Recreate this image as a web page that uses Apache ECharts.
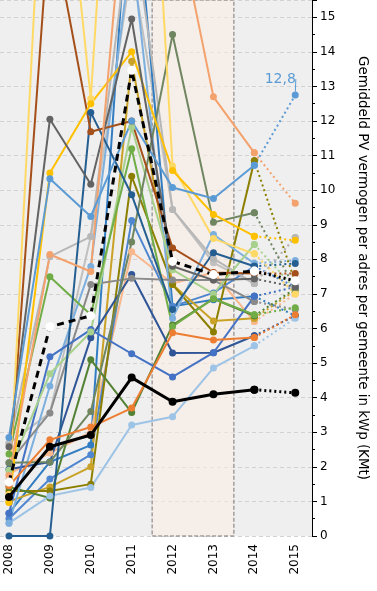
<!DOCTYPE html>
<html>
<head>
<meta charset="utf-8">
<script src="https://cdn.jsdelivr.net/npm/echarts@6/dist/echarts.min.js"></script>
<style>
    html, body { margin: 0; padding: 0; background: #fff; }
    #chart { width: 377px; height: 591px; }
</style>
</head>
<body>
<div id="chart"></div>
<script>
// jaren op de x-as
const years = [2008, 2009, 2010, 2011, 2012, 2013, 2014, 2015];

// gemiddeld vermogen (kWp) per gemeente, één rij per gemeente
const lineBlack      = [1.13, 2.58, 2.92, 4.58, 3.88, 4.10, 4.23, 4.14];
const lineBlackDash  = [1.56, 6.05, 6.37, 13.47, 7.94, 7.56, 7.66, 7.38];
const lineBlue128    = [2.85, 10.33, 9.24, 12.00, 10.08, 9.76, 10.72, 12.75];
const lineSalmon     = [1.75, 8.14, 7.65, 21.0, 18.5, 12.70, 11.08, 9.62];
const lineOrange     = [1.45, 2.78, 3.15, 3.70, 5.88, 5.67, 5.74, 6.40];
const lineDarkGray   = [2.58, 12.05, 10.17, 14.95, 7.80, 7.40, 7.44, 7.20];
const lineGold       = [0.97, 10.50, 12.50, 14.00, 10.57, 9.30, 8.67, 8.55];
const lineLightGold  = [1.20, 24.0, 12.65, 31.0, 10.70, 8.60, 8.16, 7.00];
const lineBrown      = [1.62, 18.0, 11.69, 12.00, 8.33, 7.62, 7.59, 7.59];
const lineNavy       = [0.00, 0.00, 12.25, 9.87, 6.55, 8.19, 7.80, 7.88];
const lineGrayGreen  = [2.12, 2.14, 3.60, 8.50, 14.50, 9.07, 9.35, 7.15];
const lineGreen      = [2.37, 7.50, 6.40, 11.20, 6.06, 6.86, 6.40, 6.60];
const lineLightGreen = [1.90, 4.69, 5.90, 11.82, 7.70, 7.00, 8.43, 7.15];
const lineBlue       = [0.66, 5.18, 5.97, 5.27, 4.60, 5.30, 6.93, 7.20];
const lineLightGray  = [2.68, 8.08, 8.66, 18.0, 9.44, 8.02, 7.30, 8.63];
const lineGray       = [2.12, 3.56, 7.27, 7.45, 7.40, 7.40, 6.78, 6.55];
const lineSkyBlue    = [0.37, 4.34, 7.79, 17.0, 6.30, 8.72, 7.88, 7.97];
const linePaleBlue   = [0.37, 1.16, 1.40, 3.21, 3.45, 4.86, 5.50, 6.30];
const lineSteelBlue  = [1.93, 2.14, 5.73, 7.56, 5.29, 5.30, 5.79, 6.37];
const lineDarkGreen  = [1.42, 1.10, 5.10, 3.57, 6.10, 6.86, 6.37, 7.15];
const lineOlive      = [1.30, 1.30, 1.50, 10.40, 7.27, 5.90, 10.85, 7.33];
const lineDarkGold   = [1.00, 1.42, 2.00, 13.73, 7.27, 6.22, 6.30, 7.10];
const lineMidBlue    = [0.50, 1.65, 2.35, 9.12, 6.64, 7.03, 7.80, 7.20];
const linePeach      = [1.80, 2.40, 3.00, 8.22, 7.30, 7.62, 6.20, 7.00];
const lineOceanBlue  = [0.66, 2.14, 2.63, 20.0, 6.64, 6.83, 6.93, 6.37];
const lineSilver     = [2.68, 3.56, 8.66, 16.5, 9.44, 7.90, 7.30, 8.63];

// periode met andere regeling (gearceerd)
const shadedFrom = 2011.5;
const shadedTo = 2013.5;

const FONT = 'DejaVu Sans';

const lines = [
    { data: lineSilver,     color: '#c0c0c0' },
    { data: lineOceanBlue,  color: '#327dc2' },
    { data: linePeach,      color: '#f8b88e' },
    { data: lineMidBlue,    color: '#4f86d0' },
    { data: lineDarkGold,   color: '#c9a227' },
    { data: lineOlive,      color: '#8c7f00' },
    { data: lineDarkGreen,  color: '#548235' },
    { data: lineSteelBlue,  color: '#2f5597' },
    { data: linePaleBlue,   color: '#9dc3e6' },
    { data: lineSkyBlue,    color: '#7cafdd' },
    { data: lineGray,       color: '#8a8a8a' },
    { data: lineLightGray,  color: '#b7b7b7' },
    { data: lineBlue,       color: '#4472c4' },
    { data: lineLightGreen, color: '#a9d18e' },
    { data: lineGreen,      color: '#70ad47' },
    { data: lineGrayGreen,  color: '#6f8660' },
    { data: lineNavy,       color: '#255e91' },
    { data: lineBrown,      color: '#a5501a' },
    { data: lineLightGold,  color: '#ffd966' },
    { data: lineGold,       color: '#ffc000' },
    { data: lineDarkGray,   color: '#636363' },
    { data: lineOrange,     color: '#ed7d31' },
    { data: lineSalmon,     color: '#f4a26d' },
    { data: lineBlue128,    color: '#5b9bd5', label: '12,8' },
    { data: lineBlackDash,  color: '#000000', width: 3, dash: [7, 5], hollow: true, z: 8 },
    { data: lineBlack,      color: '#000000', width: 3, size: 8, z: 9 }
];

const series = [{
    type: 'line',
    data: [],
    z: 1,
    silent: true,
    markArea: {
        silent: true,
        itemStyle: { color: 'rgba(253,237,225,0.5)', borderColor: '#777', borderWidth: 1, borderType: 'dashed' },
        data: [[{ xAxis: shadedFrom }, { xAxis: shadedTo }]]
    }
}];

lines.forEach(l => {
    const width = l.width || 2;
    const z = l.z || 2;
    series.push({
        type: 'line',
        data: years.slice(0, 7).map((y, k) => [y, l.data[k]]),
        symbol: l.hollow ? 'emptyCircle' : 'circle',
        symbolSize: l.size || 7,
        lineStyle: { color: l.color, width: width, type: l.dash || 'solid' },
        itemStyle: { color: l.hollow ? '#fff' : l.color, borderColor: l.color, borderWidth: l.hollow ? 1.5 : 0 },
        z: z,
        silent: true
    });
    // laatste jaar: gestippeld
    const last = { value: [years[7], l.data[7]] };
    if (l.label) {
        last.label = { show: true, formatter: l.label, color: l.color, fontFamily: FONT, fontSize: 14, position: 'inside' };
    }
    series.push({
        type: 'line',
        data: [[years[6], l.data[6]], last],
        symbol: l.hollow ? 'emptyCircle' : 'circle',
        symbolSize: l.size || 7,
        lineStyle: { color: l.color, width: width, type: [2, 3] },
        itemStyle: { color: l.hollow ? '#fff' : l.color, borderColor: l.color, borderWidth: l.hollow ? 1.5 : 0 },
        labelLayout: l.label ? { dx: -15, dy: -16 } : undefined,
        labelLine: l.label ? { show: true, lineStyle: { color: l.color, width: 1 } } : undefined,
        z: z,
        silent: true
    });
});

const chart = echarts.init(document.getElementById('chart'));
chart.setOption({
    animation: false,
    grid: { left: 0, right: 60, top: 0, bottom: 55, show: true, backgroundColor: '#efefef', borderWidth: 0 },
    xAxis: {
        type: 'value',
        min: 2007.78,
        max: 2015.41,
        axisLine: { show: false },
        axisTick: { show: false },
        splitLine: { show: false },
        axisLabel: {
            customValues: years,
            rotate: 90,
            margin: 8,
            fontFamily: FONT,
            fontSize: 12,
            color: '#000',
            formatter: v => String(v)
        }
    },
    yAxis: {
        type: 'value',
        position: 'right',
        min: 0,
        max: 15.5,
        interval: 1,
        axisLine: { show: true, lineStyle: { color: '#000', width: 1 } },
        axisTick: { show: true, length: 5, lineStyle: { color: '#000' } },
        minorTick: { show: true, splitNumber: 2, length: 3, lineStyle: { color: '#000' } },
        axisLabel: { showMaxLabel: false, margin: 8, fontFamily: FONT, fontSize: 12, color: '#000' },
        splitLine: { show: true, lineStyle: { color: '#d2d2d2', type: [4, 3] } },
        name: 'Gemiddeld PV vermogen per adres per gemeente in kWp (KMt)',
        nameLocation: 'middle',
        nameRotate: -90,
        nameGap: 44,
        nameTextStyle: { fontFamily: FONT, fontSize: 13.4, color: '#000' }
    },
    series: series
});
</script>
</body>
</html>
